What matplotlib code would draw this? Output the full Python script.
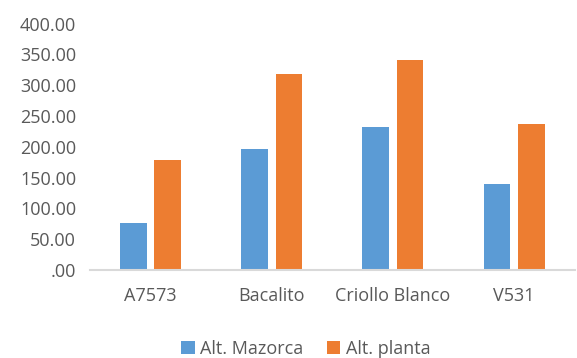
import matplotlib.pyplot as plt
import numpy as np

categories = ['A7573', 'Bacalito', 'Criollo Blanco', 'V531']
alt_mazorca = [75.6, 196.2, 232.7, 140.0]
alt_planta = [178.6, 318.5, 340.5, 236.5]
yticks = [0, 50, 100, 150, 200, 250, 300, 350, 400]
ytick_labels = ['.00', '50.00', '100.00', '150.00', '200.00', '250.00', '300.00', '350.00', '400.00']

plt.rcParams['font.family'] = ['Open Sans', 'DejaVu Sans']

fig = plt.figure(figsize=(5.77, 3.58), dpi=100)
ax = fig.add_axes([0.156, 0.246, 0.84, 0.688])

x = np.arange(len(categories))
w = 0.22
ax.bar(x - 0.142, alt_mazorca, w, color='#5B9BD5', label='Alt. Mazorca')
ax.bar(x + 0.142, alt_planta, w, color='#ED7D31', label='Alt. planta')

ax.set_xlim(-0.5, 3.5)
ax.set_ylim(0, 400)
ax.set_yticks(yticks)
ax.set_yticklabels(ytick_labels)
ax.set_xticks(x)
ax.set_xticklabels(categories)
ax.tick_params(length=0, labelsize=13, colors='#595959')
ax.tick_params(axis='x', pad=12)
ax.tick_params(axis='y', pad=10)

for s in ['top', 'right', 'left']:
    ax.spines[s].set_visible(False)
ax.spines['bottom'].set_color('#D9D9D9')
ax.spines['bottom'].set_linewidth(1.5)

leg = fig.legend(loc='lower center', bbox_to_anchor=(0.53, -0.045), ncol=2, frameon=False,
                 fontsize=13, handlelength=0.75, handleheight=0.75, handletextpad=0.3,
                 columnspacing=1.3)
for t in leg.get_texts():
    t.set_color('#595959')

plt.savefig('out.png')
